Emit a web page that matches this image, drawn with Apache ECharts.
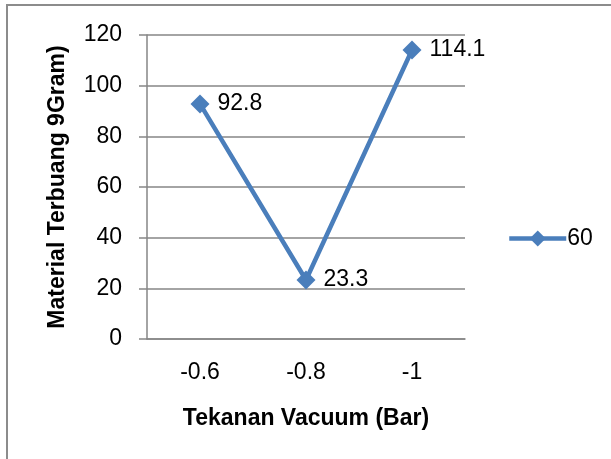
<!DOCTYPE html>
<html><head><meta charset="utf-8">
<script src="https://cdn.jsdelivr.net/npm/echarts@6/dist/echarts.min.js"></script>
<style>html,body{margin:0;padding:0;background:#fff}#c{width:611px;height:459px}</style>
</head><body><div id="c"></div>
<script>
const categories = ['-0.6', '-0.8', '-1'];
const seriesName = '60';
const values = [92.8, 23.3, 114.1];
const yTicks = [0, 20, 40, 60, 80, 100, 120];

const FONT = 'Liberation Sans';
const chart = echarts.init(document.getElementById('c'), null, {renderer: 'canvas'});
chart.setOption({
  animation: false,
  backgroundColor: '#fff',
  textStyle: {fontFamily: FONT},
  graphic: [{
    type: 'rect', silent: true,
    shape: {x: 7, y: 5, width: 640, height: 480},
    style: {fill: 'none', stroke: '#8c8c8c', lineWidth: 2}
  }],
  grid: {left: 147, top: 35, right: 146, bottom: 120},
  legend: {
    show: true, left: 502, top: 222, orient: 'vertical',
    itemWidth: 57, itemHeight: 20, itemGap: 4,
    lineStyle: {width: 4.5},
    textStyle: {fontSize: 23, color: '#000', fontFamily: FONT, padding: [0, 0, 0, -4]},
    data: [seriesName]
  },
  xAxis: {
    type: 'category', data: categories, boundaryGap: true,
    axisLine: {show: true, lineStyle: {color: '#868686', width: 1.5}},
    axisTick: {show: false},
    axisLabel: {fontSize: 23, color: '#000', margin: 22, fontFamily: FONT},
    name: 'Tekanan Vacuum (Bar)', nameLocation: 'middle', nameGap: 68,
    nameTextStyle: {fontSize: 23, fontWeight: 'bold', color: '#000', fontFamily: FONT}
  },
  yAxis: {
    type: 'value', min: yTicks[0], max: yTicks[yTicks.length - 1], interval: 20,
    axisLine: {show: true, lineStyle: {color: '#868686', width: 1.5}},
    axisTick: {show: true, inside: false, length: 8, lineStyle: {color: '#868686', width: 1.5}},
    splitLine: {show: true, lineStyle: {color: '#868686', width: 1.5}},
    axisLabel: {fontSize: 23, color: '#000', margin: 25, fontFamily: FONT},
    name: 'Material Terbuang 9Gram)', nameLocation: 'middle', nameGap: 78, nameRotate: 90,
    nameTextStyle: {fontSize: 23, fontWeight: 'bold', color: '#000', fontFamily: FONT}
  },
  series: [{
    name: seriesName, type: 'line', data: values,
    symbol: 'diamond', symbolSize: 19,
    lineStyle: {color: '#4A7EBB', width: 4.5},
    itemStyle: {color: '#4A7EBB'},
    label: {show: true, position: 'right', distance: 8, fontSize: 23, color: '#000', fontFamily: FONT}
  }]
});
</script></body></html>
